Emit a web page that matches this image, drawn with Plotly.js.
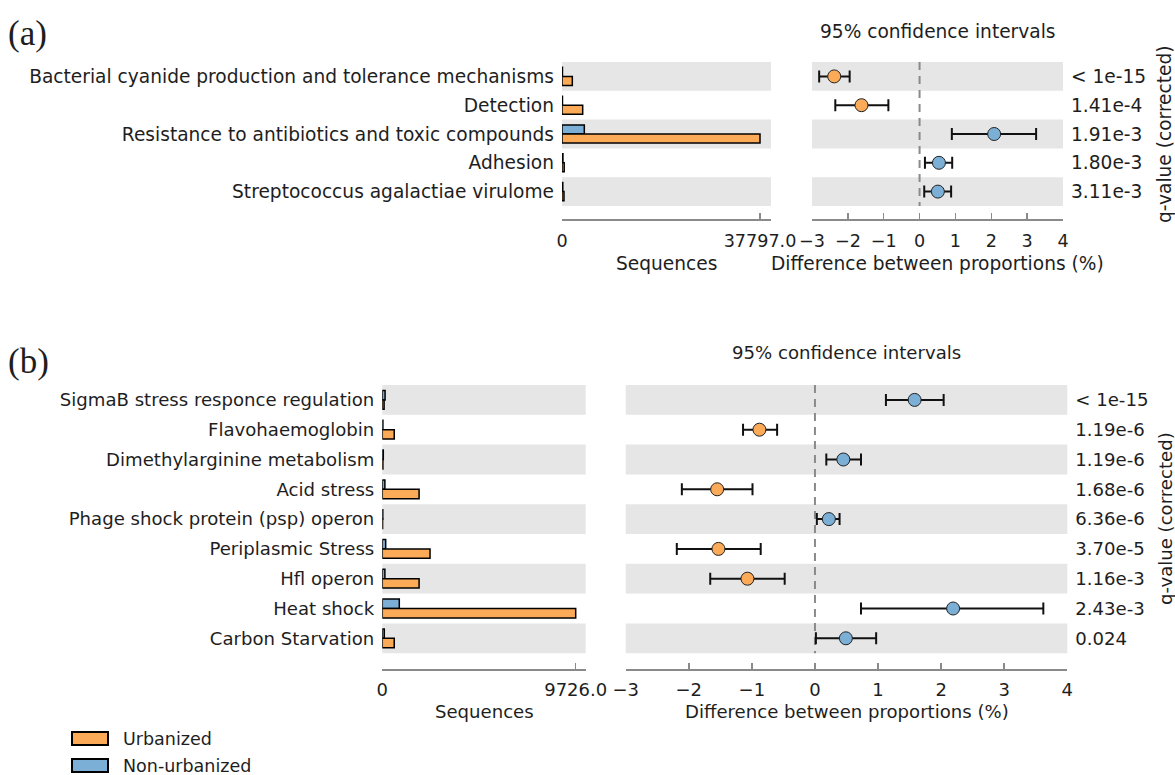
<!DOCTYPE html>
<html>
<head>
<meta charset="utf-8">
<script src="https://cdn.plot.ly/plotly-3.0.1.min.js"></script>
<style>
  html, body { margin: 0; padding: 0; background: #fff; }
  #chart { width: 1175px; height: 775px; }
</style>
</head>
<body>
<div id="chart"></div>
<script>
// ---- Panel (a) data ----
const catsA = [
  'Bacterial cyanide production and tolerance mechanisms',
  'Detection',
  'Resistance to antibiotics and toxic compounds',
  'Adhesion',
  'Streptococcus agalactiae virulome'
];
const urbanA    = [1970, 3950, 37797, 420, 380];
const nonUrbanA = [90, 90, 4260, 180, 150];
const diffA     = [-2.38, -1.62, 2.08, 0.54, 0.51];
const ciLowA    = [-2.80, -2.35, 0.90, 0.15, 0.13];
const ciHighA   = [-1.95, -0.87, 3.25, 0.91, 0.88];
const qValuesA  = ['< 1e-15', '1.41e-4', '1.91e-3', '1.80e-3', '3.11e-3'];
const seqMaxA   = 37797;

// ---- Panel (b) data ----
const catsB = [
  'SigmaB stress responce regulation',
  'Flavohaemoglobin',
  'Dimethylarginine metabolism',
  'Acid stress',
  'Phage shock protein (psp) operon',
  'Periplasmic Stress',
  'Hfl operon',
  'Heat shock',
  'Carbon Starvation'
];
const urbanB    = [90, 600, 30, 1850, 15, 2400, 1850, 9726, 600];
const nonUrbanB = [140, 30, 50, 130, 25, 170, 130, 855, 100];
const diffB     = [1.58, -0.88, 0.45, -1.55, 0.22, -1.53, -1.07, 2.19, 0.49];
const ciLowB    = [1.125, -1.14, 0.18, -2.11, 0.03, -2.19, -1.66, 0.73, 0.015];
const ciHighB   = [2.04, -0.60, 0.73, -0.99, 0.39, -0.86, -0.48, 3.62, 0.97];
const qValuesB  = ['< 1e-15', '1.19e-6', '1.19e-6', '1.68e-6', '6.36e-6', '3.70e-5', '1.16e-3', '2.43e-3', '0.024'];
const seqMaxB   = 9726;

const ciTicks = [-3, -2, -1, 0, 1, 2, 3, 4];
const groupNames = ['Urbanized', 'Non-urbanized'];

// ---- styling ----
const W = 1175, H = 775;
const fx = x => x / W;
const fy = y => 1 - y / H;
const ORANGE = '#FBAA58';
const BLUE = '#7BAFD5';
const BAND = '#E6E6E6';
const AXIS = '#8A8A8A';
const TXT = '#1E1E1E';
const FONT = 'DejaVu Sans, sans-serif';

const traces = [];
const shapes = [];
const annotations = [];
const layout = {
  width: W, height: H,
  margin: {l: 0, r: 0, t: 0, b: 0},
  paper_bgcolor: '#fff', plot_bgcolor: 'rgba(0,0,0,0)',
  showlegend: false,
  barmode: 'group', bargap: 0.37, bargroupgap: 0,
  font: {family: FONT, size: 18, color: TXT},
  shapes, annotations
};

// One panel: sequence bars on the left, CI dot plot on the right.
function panel(p) {
  const n = p.cats.length;
  const idx = p.cats.map((_, i) => i);
  const bottom = n - 0.5 + (p.axisY - (p.yTop + n * p.rowH)) / p.rowH;
  const yDomain = [fy(p.axisY), fy(p.yTop)];
  const xb = p.ax[0][0], yb = p.ax[0][1];
  const xc = p.ax[1][0], yc = p.ax[1][1];
  const key = id => id.replace(/^x/, 'xaxis').replace(/^y/, 'yaxis');
  const font = {family: FONT, size: p.fs, color: TXT};
  const tickFont = {family: FONT, size: p.tfs, color: TXT};

  const xCommon = {
    showline: true, linecolor: AXIS, linewidth: 2,
    ticks: 'inside', ticklen: 6, tickwidth: 1.5, tickcolor: AXIS,
    showgrid: false, zeroline: false, fixedrange: true,
    tickfont: tickFont, ticklabelstandoff: p.xStandoff
  };
  layout[key(xb)] = Object.assign({}, xCommon, {
    domain: [fx(p.barX[0]), fx(p.barX[1])], anchor: yb,
    range: [0, p.seqMax * (p.barX[1] - p.barX[0]) / (p.seqTickPx - p.barX[0])],
    tickmode: 'array', tickvals: [0, p.seqMax], ticktext: ['0', p.seqMax.toFixed(1)]
  });
  layout[key(xc)] = Object.assign({}, xCommon, {
    domain: [fx(p.ciX[0]), fx(p.ciX[1])], anchor: yc,
    range: [-3, 4], tickmode: 'array', tickvals: ciTicks
  });
  const yCommon = {
    domain: yDomain, range: [bottom, -0.5], showgrid: false, zeroline: false,
    showline: false, ticks: '', tickmode: 'array', tickvals: idx, fixedrange: true,
    tickfont: font, ticklabelstandoff: 7
  };
  layout[key(yb)] = Object.assign({}, yCommon, {anchor: xb, ticktext: p.cats, side: 'left'});
  layout[key(yc)] = Object.assign({}, yCommon, {anchor: xc, ticktext: p.q, side: 'right'});

  // alternating grey row bands behind both halves
  idx.filter(i => i % 2 === 0).forEach(i => {
    [[xb, yb], [xc, yc]].forEach(([xr, yr]) => {
      shapes.push({type: 'rect', layer: 'below', xref: xr + ' domain', yref: yr,
        x0: 0, x1: 1, y0: i - 0.5, y1: i + 0.5, fillcolor: BAND, line: {width: 0}});
    });
  });
  // dashed zero line
  shapes.push({type: 'line', layer: 'below', xref: xc, yref: yc, x0: 0, x1: 0, y0: -0.5, y1: n - 0.5,
    line: {color: AXIS, width: 2, dash: '8px,6px'}});

  // sequence bars: non-urbanized above, urbanized below
  traces.push({type: 'bar', orientation: 'h', x: p.nonUrban, y: idx, name: groupNames[1],
    xaxis: xb, yaxis: yb,
    marker: {color: BLUE, line: {color: '#000', width: 1.5}}, hoverinfo: 'skip'});
  traces.push({type: 'bar', orientation: 'h', x: p.urban, y: idx, name: groupNames[0],
    xaxis: xb, yaxis: yb,
    marker: {color: ORANGE, line: {color: '#000', width: 1.5}}, hoverinfo: 'skip'});

  // difference with 95% confidence interval
  traces.push({type: 'scatter', mode: 'markers', x: p.diff, y: idx, xaxis: xc, yaxis: yc,
    error_x: {type: 'data', symmetric: false,
      array: p.diff.map((d, i) => p.hi[i] - d),
      arrayminus: p.diff.map((d, i) => d - p.lo[i]),
      color: '#111', thickness: 2, width: 6},
    marker: {size: 13, color: p.diff.map(d => d < 0 ? ORANGE : BLUE), line: {color: '#222', width: 1}},
    hoverinfo: 'skip', cliponaxis: false});

  const ciMid = fx((p.ciX[0] + p.ciX[1]) / 2);
  const barMid = fx((p.barX[0] + p.barX[1]) / 2);
  annotations.push(
    {text: p.label, xref: 'paper', yref: 'paper', x: fx(6), y: fy(p.labelY), xanchor: 'left', yanchor: 'middle',
      showarrow: false, font: {family: 'Liberation Serif, serif', size: 35, color: TXT}},
    {text: '95% confidence intervals', xref: 'paper', yref: 'paper', x: ciMid, y: fy(p.titleY),
      xanchor: 'center', yanchor: 'middle', showarrow: false, font},
    {text: 'Sequences', xref: 'paper', yref: 'paper', x: barMid, y: fy(p.axisTitleY),
      xanchor: 'center', yanchor: 'middle', showarrow: false, font},
    {text: 'Difference between proportions (%)', xref: 'paper', yref: 'paper', x: ciMid, y: fy(p.axisTitleY),
      xanchor: 'center', yanchor: 'middle', showarrow: false, font},
    {text: 'q-value (corrected)', xref: 'paper', yref: 'paper', x: fx(1165),
      y: fy(p.yTop + n * p.rowH / 2), xanchor: 'center', yanchor: 'middle', textangle: -90, showarrow: false, font}
  );
}

panel({label: '(a)', labelY: 34, titleY: 31, axisTitleY: 264, ax: [['x', 'y'], ['x2', 'y2']],
  fs: 18.6, tfs: 17.6, xStandoff: 5,
  cats: catsA, urban: urbanA, nonUrban: nonUrbanA, diff: diffA, lo: ciLowA, hi: ciHighA, q: qValuesA,
  seqMax: seqMaxA, barX: [562, 771], seqTickPx: 760, ciX: [812, 1063], yTop: 62, rowH: 28.8, axisY: 219});

panel({label: '(b)', labelY: 361, titleY: 352, axisTitleY: 711, ax: [['x3', 'y3'], ['x4', 'y4']],
  fs: 18.1, tfs: 18, xStandoff: 3,
  cats: catsB, urban: urbanB, nonUrban: nonUrbanB, diff: diffB, lo: ciLowB, hi: ciHighB, q: qValuesB,
  seqMax: seqMaxB, barX: [382.3, 585.7], seqTickPx: 575.7, ciX: [625.7, 1067.3], yTop: 385, rowH: 29.8, axisY: 669});

// legend
[[groupNames[0], ORANGE, 738.5], [groupNames[1], BLUE, 765.5]].forEach(([name, col, yc]) => {
  shapes.push({type: 'rect', xref: 'paper', yref: 'paper', x0: fx(72), x1: fx(108), y0: fy(yc + 6.5), y1: fy(yc - 6.5),
    fillcolor: col, line: {color: '#000', width: 2}});
  annotations.push({text: name, xref: 'paper', yref: 'paper', x: fx(121), y: fy(yc), xanchor: 'left', yanchor: 'middle',
    showarrow: false, font: {family: FONT, size: 17.5, color: TXT}});
});

Plotly.newPlot('chart', traces, layout, {staticPlot: true, displayModeBar: false});
</script>
</body>
</html>
